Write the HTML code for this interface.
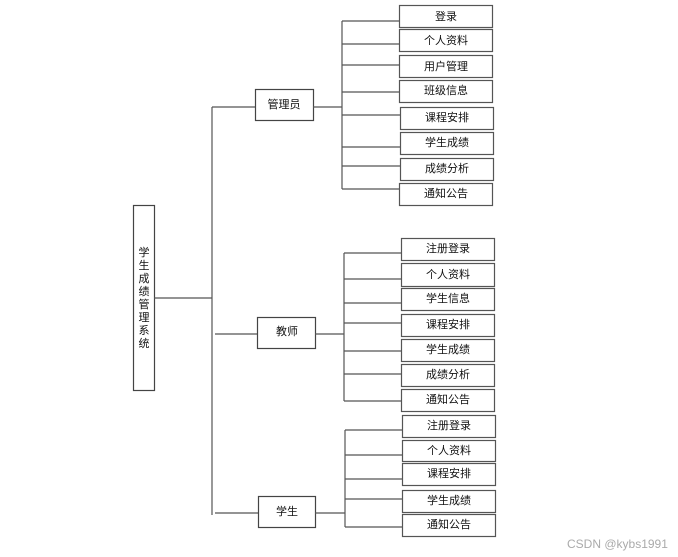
<!DOCTYPE html>
<html><head><meta charset="utf-8"><style>
html,body{margin:0;padding:0;background:#fff;}
svg{display:block;}
text{font-family:"Liberation Sans","Noto Sans CJK SC",sans-serif;font-size:11px;fill:#111;}
</style></head><body>
<svg width="678" height="557" viewBox="0 0 678 557" xmlns="http://www.w3.org/2000/svg">
<g stroke="#555" stroke-width="1.2" fill="none">
<!-- root -->
<rect x="133.5" y="205.5" width="21" height="185" stroke="#444"/>
<line x1="154" y1="298" x2="212" y2="298"/>
<line x1="212" y1="107" x2="212" y2="515"/>
<line x1="212" y1="107" x2="255" y2="107"/>
<line x1="215" y1="334" x2="257" y2="334"/>
<line x1="215" y1="513" x2="258" y2="513"/>
<!-- admin -->
<rect x="255.5" y="89.5" width="58" height="31" stroke="#444"/>
<line x1="313" y1="107" x2="342" y2="107"/>
<line x1="342" y1="21" x2="342" y2="189"/>
<line x1="342" y1="21" x2="399" y2="21"/>
<line x1="342" y1="44" x2="399" y2="44"/>
<line x1="342" y1="65" x2="399" y2="65"/>
<line x1="342" y1="92" x2="399" y2="92"/>
<line x1="342" y1="115" x2="400" y2="115"/>
<line x1="342" y1="147" x2="400" y2="147"/>
<line x1="342" y1="166" x2="400" y2="166"/>
<line x1="342" y1="189" x2="399" y2="189"/>
<rect x="399.5" y="5.5" width="93" height="22"/>
<rect x="399.5" y="29.5" width="93" height="22"/>
<rect x="399.5" y="55.5" width="93" height="22"/>
<rect x="399.5" y="80.5" width="93" height="22"/>
<rect x="400.5" y="107.5" width="93" height="22"/>
<rect x="400.5" y="132.5" width="93" height="22"/>
<rect x="400.5" y="158.5" width="93" height="22"/>
<rect x="399.5" y="183.5" width="93" height="22"/>
<!-- teacher -->
<rect x="257.5" y="317.5" width="58" height="31" stroke="#444"/>
<line x1="315" y1="334" x2="344" y2="334"/>
<line x1="344" y1="253" x2="344" y2="401"/>
<line x1="344" y1="253" x2="401" y2="253"/>
<line x1="344" y1="279" x2="401" y2="279"/>
<line x1="344" y1="303" x2="401" y2="303"/>
<line x1="344" y1="323" x2="401" y2="323"/>
<line x1="344" y1="351" x2="401" y2="351"/>
<line x1="344" y1="374" x2="401" y2="374"/>
<line x1="344" y1="401" x2="401" y2="401"/>
<rect x="401.5" y="238.5" width="93" height="22"/>
<rect x="401.5" y="263.5" width="93" height="23"/>
<rect x="401.5" y="288.5" width="93" height="22"/>
<rect x="401.5" y="314.5" width="93" height="22"/>
<rect x="401.5" y="339.5" width="93" height="22"/>
<rect x="401.5" y="364.5" width="93" height="22"/>
<rect x="401.5" y="389.5" width="93" height="22"/>
<!-- student -->
<rect x="258.5" y="496.5" width="57" height="31" stroke="#444"/>
<line x1="315" y1="513" x2="345" y2="513"/>
<line x1="345" y1="430" x2="345" y2="527"/>
<line x1="345" y1="430" x2="402" y2="430"/>
<line x1="345" y1="455" x2="402" y2="455"/>
<line x1="345" y1="479" x2="402" y2="479"/>
<line x1="345" y1="499" x2="402" y2="499"/>
<line x1="345" y1="527" x2="402" y2="527"/>
<rect x="402.5" y="415.5" width="93" height="22"/>
<rect x="402.5" y="440.5" width="93" height="21"/>
<rect x="402.5" y="463.5" width="93" height="22"/>
<rect x="402.5" y="490.5" width="93" height="22"/>
<rect x="402.5" y="514.5" width="93" height="22"/>
</g>
<g text-anchor="middle" dominant-baseline="central">
<text x="144" y="253">学</text><text x="144" y="266">生</text><text x="144" y="279">成</text><text x="144" y="292">绩</text><text x="144" y="305">管</text><text x="144" y="318">理</text><text x="144" y="331">系</text><text x="144" y="344">统</text>
<text x="284" y="105">管理员</text>
<text x="446" y="17">登录</text>
<text x="446" y="41">个人资料</text>
<text x="446" y="67">用户管理</text>
<text x="446" y="91">班级信息</text>
<text x="447" y="118">课程安排</text>
<text x="447" y="143">学生成绩</text>
<text x="447" y="169">成绩分析</text>
<text x="446" y="194">通知公告</text>
<text x="287" y="332">教师</text>
<text x="448" y="249">注册登录</text>
<text x="448" y="275">个人资料</text>
<text x="448" y="299">学生信息</text>
<text x="448" y="325">课程安排</text>
<text x="448" y="350">学生成绩</text>
<text x="448" y="375">成绩分析</text>
<text x="448" y="400">通知公告</text>
<text x="287" y="512">学生</text>
<text x="449" y="426">注册登录</text>
<text x="449" y="451">个人资料</text>
<text x="449" y="474">课程安排</text>
<text x="449" y="501">学生成绩</text>
<text x="449" y="525">通知公告</text>
</g>
<text x="567" y="548" style="font-size:12px;fill:#aaa;">CSDN @kybs1991</text>
</svg>
</body></html>
